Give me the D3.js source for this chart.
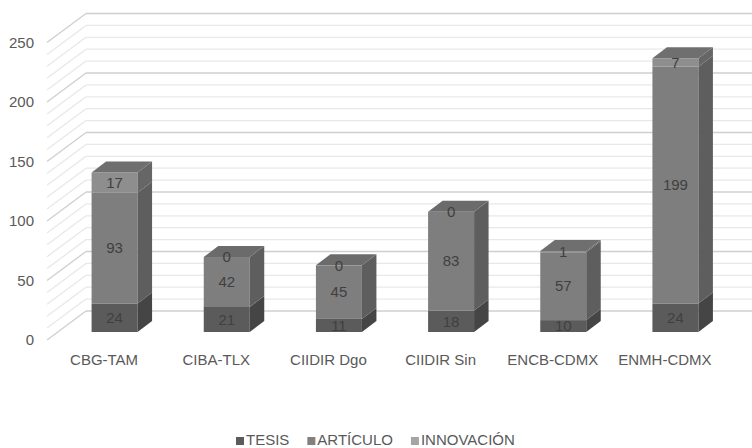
<!DOCTYPE html>
<html>
<head>
<meta charset="utf-8">
<script src="https://cdn.jsdelivr.net/npm/d3@7"></script>
<style>
  body { margin: 0; background: #fff; }
  text { font-family: "Liberation Sans", Arial, sans-serif; }
</style>
</head>
<body>
<svg width="752" height="448"></svg>
<script>
'use strict';

const categories = ['CBG-TAM', 'CIBA-TLX', 'CIIDIR Dgo', 'CIIDIR Sin', 'ENCB-CDMX', 'ENMH-CDMX'];
const tesis = [24, 21, 11, 18, 10, 24];
const articulo = [93, 42, 45, 83, 57, 199];
const innovacion = [17, 0, 0, 0, 1, 7];
const seriesNames = ['TESIS', 'ARTÍCULO', 'INNOVACIÓN'];
const yTicks = [0, 50, 100, 150, 200, 250];

const svg = d3.select('svg');
const width = +svg.attr('width');

// shading for each series: front, side, top, legend
const shades = [
  { front: '#5b5b5b', side: '#454545', top: '#525252', key: '#5b5b5b' },
  { front: '#7e7e7e', side: '#5e5e5e', top: '#6b6b6b', key: '#808080' },
  { front: '#8e8e8e', side: '#666666', top: '#6f6f6f', key: '#a5a5a5' }
];

const y = d3.scaleLinear().domain([0, 250]).range([340, 42.5]);
const x = d3.scaleBand().domain(categories).range([48, 721])
    .paddingInner(0.59).paddingOuter(0.295);

// depth of the wall and of the bars
const wall = { dx: 39, dy: -29 };
const barOff = { dx: 10.5, dy: -8 };
const barDepth = { dx: 14.5, dy: -11 };

// gridlines on back wall plus side wall diagonals
const grid = d3.range(0, 251, 10);
const gridG = svg.append('g');
gridG.selectAll('.back')
    .data(grid)
    .enter()
    .append('line')
        .attr('x1', 47 + wall.dx)
        .attr('x2', width)
        .attr('y1', (d) => y(d) + wall.dy)
        .attr('y2', (d) => y(d) + wall.dy)
        .attr('stroke', (d) => d % 50 === 0 ? '#cfcfcf' : '#e8e8e8')
        .attr('stroke-width', 1.3);
gridG.selectAll('.side')
    .data(grid)
    .enter()
    .append('line')
        .attr('x1', 47)
        .attr('x2', 47 + wall.dx)
        .attr('y1', (d) => y(d))
        .attr('y2', (d) => y(d) + wall.dy)
        .attr('stroke', (d) => d % 50 === 0 ? '#cfcfcf' : '#e8e8e8')
        .attr('stroke-width', 1.3);

// y axis labels
svg.append('g').selectAll('text')
    .data(yTicks)
    .enter()
    .append('text')
        .attr('x', 34)
        .attr('y', (d) => y(d))
        .attr('dy', '0.35em')
        .attr('text-anchor', 'end')
        .attr('font-size', 15)
        .style('fill', '#595959')
        .text((d) => d);

// stack
const rows = categories.map((c, i) => ({ cat: c, TESIS: tesis[i], 'ARTÍCULO': articulo[i], 'INNOVACIÓN': innovacion[i] }));
const stacked = d3.stack().keys(seriesNames)(rows);

const bars = svg.selectAll('.bar')
    .data(categories)
    .enter()
    .append('g')
        .attr('class', 'bar');

bars.each(function (cat, i) {
    const g = d3.select(this);
    const x0 = x(cat) + barOff.dx;
    const x1 = x0 + x.bandwidth();
    stacked.forEach((s, k) => {
        const lo = y(s[i][0]) + barOff.dy;
        const hi = y(s[i][1]) + barOff.dy;
        if (hi < lo) {
            g.append('rect')
                .attr('x', x0).attr('y', hi)
                .attr('width', x1 - x0).attr('height', lo - hi)
                .attr('fill', shades[k].front);
            g.append('polygon')
                .attr('points', [[x1, lo], [x1 + barDepth.dx, lo + barDepth.dy],
                    [x1 + barDepth.dx, hi + barDepth.dy], [x1, hi]].join(' '))
                .attr('fill', shades[k].side);
        }
    });
    // top face
    const total = stacked[stacked.length - 1][i][1];
    const topY = y(total) + barOff.dy;
    let topK = 0;
    stacked.forEach((s, k) => { if (s[i][1] > s[i][0]) topK = k; });
    g.append('polygon')
        .attr('points', [[x0, topY], [x1, topY], [x1 + barDepth.dx, topY + barDepth.dy],
            [x0 + barDepth.dx, topY + barDepth.dy]].join(' '))
        .attr('fill', shades[topK].top);
    // data labels
    stacked.forEach((s) => {
        const mid = (y(s[i][0]) + y(s[i][1])) / 2 + barOff.dy;
        g.append('text')
            .attr('x', (x0 + x1) / 2)
            .attr('y', mid)
            .attr('dy', '0.35em')
            .attr('text-anchor', 'middle')
            .attr('font-size', 15)
            .style('fill', '#404040')
            .text(s[i].data[s.key]);
    });
});

// category labels on front plane
svg.append('g').selectAll('text')
    .data(categories)
    .enter()
    .append('text')
        .attr('x', (d) => x(d) + x.bandwidth() / 2)
        .attr('y', 365)
        .attr('text-anchor', 'middle')
        .attr('font-size', 15)
        .style('fill', '#595959')
        .text((d) => d);

// legend
const legend = svg.append('g');
let lx = 236;
seriesNames.forEach((name, k) => {
    legend.append('rect')
        .attr('x', lx).attr('y', 437)
        .attr('width', 8).attr('height', 8)
        .attr('fill', shades[k].key);
    const t = legend.append('text')
        .attr('x', lx + 10)
        .attr('y', 445)
        .attr('font-size', 15)
        .style('fill', '#595959')
        .text(name);
    lx += 10 + t.node().getComputedTextLength() + 18;
});
</script>
</body>
</html>
